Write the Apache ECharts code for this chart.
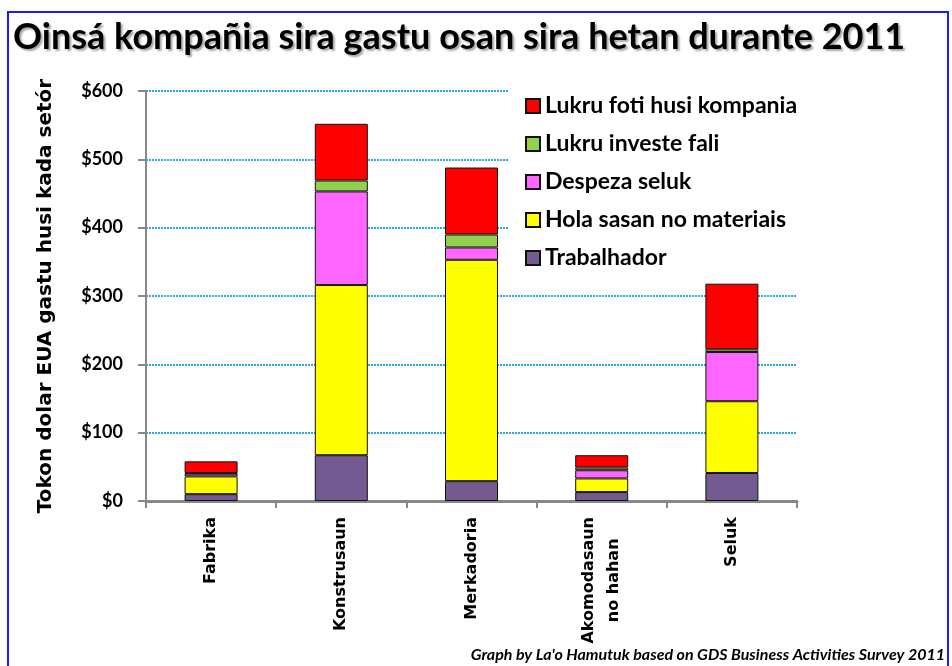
<!DOCTYPE html>
<html><head><meta charset="utf-8">
<script src="https://cdn.jsdelivr.net/npm/echarts@6/dist/echarts.min.js"></script>
<style>html,body{margin:0;padding:0;background:#fff}#c{width:952px;height:666px}</style>
</head><body><div id="c"></div>
<script>
const categories = ['Fabrika', 'Konstrusaun', 'Merkadoria', 'Akomodasaun\nno hahan', 'Seluk'];
const trabalhador = [10, 67, 29, 13, 41];
const materiais = [26, 249, 324, 20, 105];
const despeza = [4, 137, 18, 12, 72];
const investe = [1, 16, 19, 4, 4];
const lukru = [17, 83, 98, 18, 96];
const seriesNames = ['Trabalhador', 'Hola sasan no materiais', 'Despeza seluk', 'Lukru investe fali', 'Lukru foti husi kompania'];
const seriesColors = ['#735b92', '#ffff00', '#ff66ff', '#92d050', '#ff0000'];
const seriesData = [trabalhador, materiais, despeza, investe, lukru];

const FONT = 'Lato, "Open Sans", sans-serif';
const RFONT = '"DejaVu Sans", sans-serif';
const chart = echarts.init(document.getElementById('c'), null, {renderer: 'canvas'});
chart.setOption({
  animation: false,
  backgroundColor: '#fff',
  title: {
    text: 'Oinsá kompañia sira gastu osan sira hetan durante 2011',
    left: 8, top: 14,
    textStyle: {fontFamily: FONT, fontWeight: 'bold', fontSize: 36, color: '#000',
      textShadowColor: 'rgba(0,0,0,0.35)', textShadowOffsetX: 2, textShadowOffsetY: 2, textShadowBlur: 2}
  },
  grid: {left: 146, right: 155, top: 91, bottom: 165, containLabel: false, outerBoundsMode: 'none'},
  legend: {
    data: seriesNames.slice().reverse(),
    orient: 'vertical',
    left: 508, top: 76,
    width: 290,
    padding: [18, 4, 4, 17],
    backgroundColor: '#fff',
    itemWidth: 14, itemHeight: 14, itemGap: 14,
    icon: 'rect',
    textStyle: {fontFamily: FONT, fontWeight: 'bold', fontSize: 23, lineHeight: 24, color: '#000'}
  },
  xAxis: {
    type: 'category',
    data: categories,
    axisLine: {lineStyle: {color: '#888', width: 3}},
    axisTick: {show: true, length: 7, lineStyle: {color: '#888', width: 2}},
    axisLabel: {
      rotate: 90, margin: 16, fontFamily: RFONT, fontWeight: 'bold', fontSize: 16, color: '#000', lineHeight: 25,
      formatter: v => v.split('\n').map(s => '{c|' + s + '}').join('\n'),
      rich: {c: {align: 'center', fontFamily: RFONT, fontWeight: 'bold', fontSize: 16, color: '#000', lineHeight: 25}}
    }
  },
  yAxis: {
    type: 'value',
    min: 0, max: 600, interval: 100,
    name: 'Tokon dolar EUA gastu husi kada setór',
    nameLocation: 'middle', nameGap: 90, nameRotate: 90,
    nameTextStyle: {fontFamily: RFONT, fontWeight: 'bold', fontSize: 20, color: '#000'},
    axisLine: {show: true, lineStyle: {color: '#888', width: 2}},
    axisTick: {show: true, length: 8, lineStyle: {color: '#888', width: 2}},
    axisLabel: {formatter: v => '$' + v, margin: 23, fontFamily: FONT, fontWeight: 'bold', fontSize: 18, color: '#000'},
    splitLine: {show: true, lineStyle: {color: '#29abe2', width: 2, type: [2, 1]}}
  },
  series: seriesData.map((d, i) => ({
    name: seriesNames[i],
    type: 'bar',
    stack: 'total',
    data: d,
    barWidth: 53,
    itemStyle: {color: seriesColors[i], borderColor: '#111', borderWidth: 1}
  })),
  graphic: [
    {type: 'rect', shape: {x: 8, y: 12, width: 940, height: 700}, style: {fill: 'none', stroke: '#1a1aff', lineWidth: 2}, silent: true},
    {type: 'text', right: 7, top: 647, style: {text: "Graph by La'o Hamutuk based on GDS Business Activities Survey 2011",
      font: 'italic bold 16px ' + FONT, fill: '#000'}}
  ]
});
</script></body></html>
